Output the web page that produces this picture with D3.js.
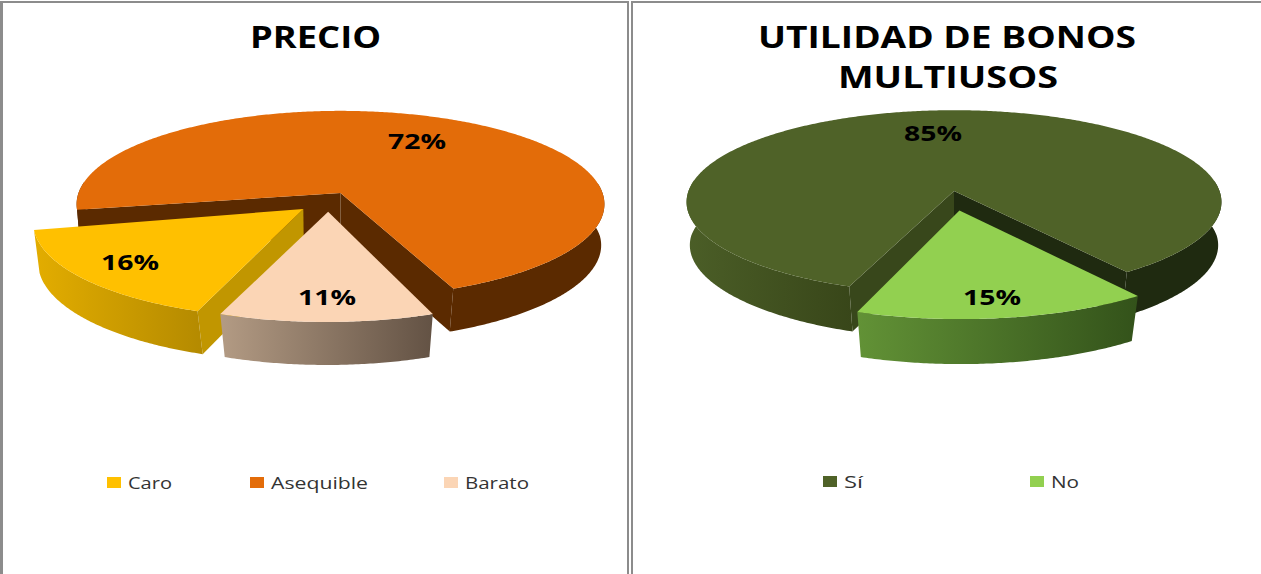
<!DOCTYPE html>
<html><head><meta charset="utf-8">
<script src="https://cdn.jsdelivr.net/npm/d3@7/dist/d3.min.js"></script>
<style>html,body{margin:0;padding:0;background:#fff}svg{display:block}</style>
</head><body><svg id="c" width="1261" height="574"></svg>
<script>
// ---- data
const precioCategories = ["Caro", "Asequible", "Barato"];
const precioValues = [16, 72, 11];
const precioLabels = ["16%", "72%", "11%"];
const precioColors = ["#FFC000", "#E36C09", "#FBD5B5"];
const utilidadCategories = ["Sí", "No"];
const utilidadValues = [85, 15];
const utilidadLabels = ["85%", "15%"];
const utilidadColors = ["#4F6228", "#92D050"];

// ---- layout / style
const W = 1261, H = 574;
const svg = d3.select("#c");
const defs = svg.append("defs");
const FONT = "'Open Sans', sans-serif";
const deg = Math.PI / 180;
const K = 0.12;
let gid = 0;

const frame = [[0,3,3,571],[0,1,629,2],[627,1,2,573],[631,1,2,573],[631,1,630,2]];
svg.selectAll("rect.frame").data(frame).join("rect").attr("class","frame")
  .attr("x",d=>d[0]).attr("y",d=>d[1]).attr("width",d=>d[2]).attr("height",d=>d[3]).attr("fill","#8c8c8c");

function drawPie(cfg) {
  const x = d3.scaleLinear().domain([-1,1]).range([cfg.cx-cfg.r, cfg.cx+cfg.r]);
  const y = d3.scaleLinear().domain([-1,1]).range([cfg.cy-cfg.ry, cfg.cy+cfg.ry]);
  const project = (u, v) => { const w = 1 - K*v; return [x(u/w), y(v/w)]; };
  const lower = p => {
    const taper = 0.01 + 0.00022*Math.max(0, p[1]-cfg.cy);
    return [p[0] - taper*(p[0]-cfg.cx), p[1] + cfg.drop];
  };
  const line = d3.line();
  const arcs = d3.pie().sort(null).value(d=>d)
    .startAngle(cfg.start*deg).endAngle((cfg.start+360)*deg)(cfg.values);

  const g = svg.append("g");
  cfg.order.forEach(i => {
    const a = arcs[i], st = cfg.style[i], [ou, ov] = st.offset;
    const t0 = a.startAngle + st.nudge[0]*deg, t1 = a.endAngle + st.nudge[1]*deg;
    const rimPt = t => project(Math.sin(t)+ou, -Math.cos(t)+ov);
    const apex = project(ou, ov);
    const samples = d3.range(t0, t1, 0.01).concat([t1]);
    const top = samples.map(rimPt);
    const mid = rimPt((t0+t1)/2);

    // inner walls, only those whose slice lies above the cut edge
    [t0, t1].forEach((t, j) => {
      const p = rimPt(t);
      const yAt = apex[1] + (p[1]-apex[1])/(p[0]-apex[0]) * (mid[0]-apex[0]);
      if (mid[1] < yAt) {
        g.append("path").attr("d", line([apex, p, lower(p), lower(apex)])+"Z")
          .attr("fill", st.wall[j]);
      }
    });
    // outer rim, the runs that face the viewer
    const runs = []; let run = null;
    samples.forEach(t => {
      if (Math.cos(t) < 0.12) { if(!run){run=[];runs.push(run);} run.push(t); }
      else run = null;
    });
    runs.forEach((r, ri) => {
      const pts = r.map(rimPt);
      const poly = pts.concat(pts.map(lower).reverse());
      const cols = st.rim[ri % st.rim.length];
      const id = "g"+(gid++);
      const ext = d3.extent(poly, p=>p[0]);
      const gr = defs.append("linearGradient").attr("id",id).attr("gradientUnits","userSpaceOnUse")
        .attr("x1",ext[0]).attr("x2",ext[1]).attr("y1",0).attr("y2",0);
      gr.append("stop").attr("offset",0).attr("stop-color",cols[0]);
      gr.append("stop").attr("offset",1).attr("stop-color",cols[1]);
      g.append("path").attr("d", line(poly)+"Z").attr("fill",`url(#${id})`);
    });
    // top face
    g.append("path").attr("d", line([apex].concat(top))+"Z").attr("fill", cfg.colors[i]);
  });

  // value labels
  svg.selectAll(null).data(cfg.labels).join("text")
    .attr("x",(d,i)=>cfg.labelPos[i][0]).attr("y",(d,i)=>cfg.labelPos[i][1])
    .attr("textLength",58).attr("lengthAdjust","spacingAndGlyphs")
    .attr("text-anchor","middle").attr("font-family",FONT).attr("font-weight",700)
    .attr("font-size",22).attr("fill","#000").text(d=>d);

  // titles
  svg.selectAll(null).data(cfg.title).join("text")
    .attr("x",d=>d.x).attr("y",d=>d.y).attr("textLength",d=>d.w).attr("lengthAdjust","spacingAndGlyphs")
    .attr("text-anchor","middle").attr("font-family",FONT).attr("font-weight",700)
    .attr("font-size",30).attr("fill","#000").text(d=>d.t);

  // legend
  const lg = svg.selectAll(null).data(cfg.categories).join("g");
  lg.append("rect").attr("x",(d,i)=>cfg.legend[i].x).attr("y",cfg.legendY-10)
    .attr("width",14).attr("height",11).attr("fill",(d,i)=>cfg.colors[i]);
  lg.append("text").attr("x",(d,i)=>cfg.legend[i].x+21).attr("y",cfg.legendY+2)
    .attr("textLength",(d,i)=>cfg.legend[i].w).attr("lengthAdjust","spacingAndGlyphs")
    .attr("font-family",FONT).attr("font-size",16).attr("fill","#333").text(d=>d);
}

drawPie({
  cx:340.5, cy:193, r:262, ry:92, drop:43, start:199.5,
  values:precioValues, colors:precioColors, labels:precioLabels, categories:precioCategories,
  order:[1,0,2],
  style:[
    {offset:[-0.139,0.17], nudge:[0,0], wall:["#C19600","#C19600"], rim:[["#E3AD00","#B48A00"]]},
    {offset:[0,0], nudge:[2,-2], wall:["#5B2A00","#5B2A00"], rim:[["#5B2A00","#5B2A00"]]},
    {offset:[-0.046,0.2], nudge:[0,1], wall:["#8E7B68","#8E7B68"], rim:[["#B39B84","#635244"]]}
  ],
  labelPos:[[130,270],[417,149],[327,305]],
  title:[{t:"PRECIO",x:315.5,y:48,w:131}],
  legend:[{x:107,w:44},{x:250,w:97},{x:444,w:64}], legendY:487
});
drawPie({
  cx:954, cy:191, r:265.5, ry:90.5, drop:45, start:198,
  values:utilidadValues, colors:utilidadColors, labels:utilidadLabels, categories:utilidadCategories,
  order:[0,1],
  style:[
    {offset:[0,0], nudge:[2.5,0], wall:["#38471B","#1F2A10"], rim:[["#4B5E27","#384619"],["#1F2A10","#1F2A10"]]},
    {offset:[0.02,0.21], nudge:[0,1.5], wall:["#4A7028","#4A7028"], rim:[["#629236","#33521A"]]}
  ],
  labelPos:[[933,141],[992,305]],
  title:[{t:"UTILIDAD DE BONOS",x:947,y:48,w:378},{t:"MULTIUSOS",x:948,y:88,w:220}],
  legend:[{x:823,w:19},{x:1030,w:28}], legendY:486
});
</script></body></html>
